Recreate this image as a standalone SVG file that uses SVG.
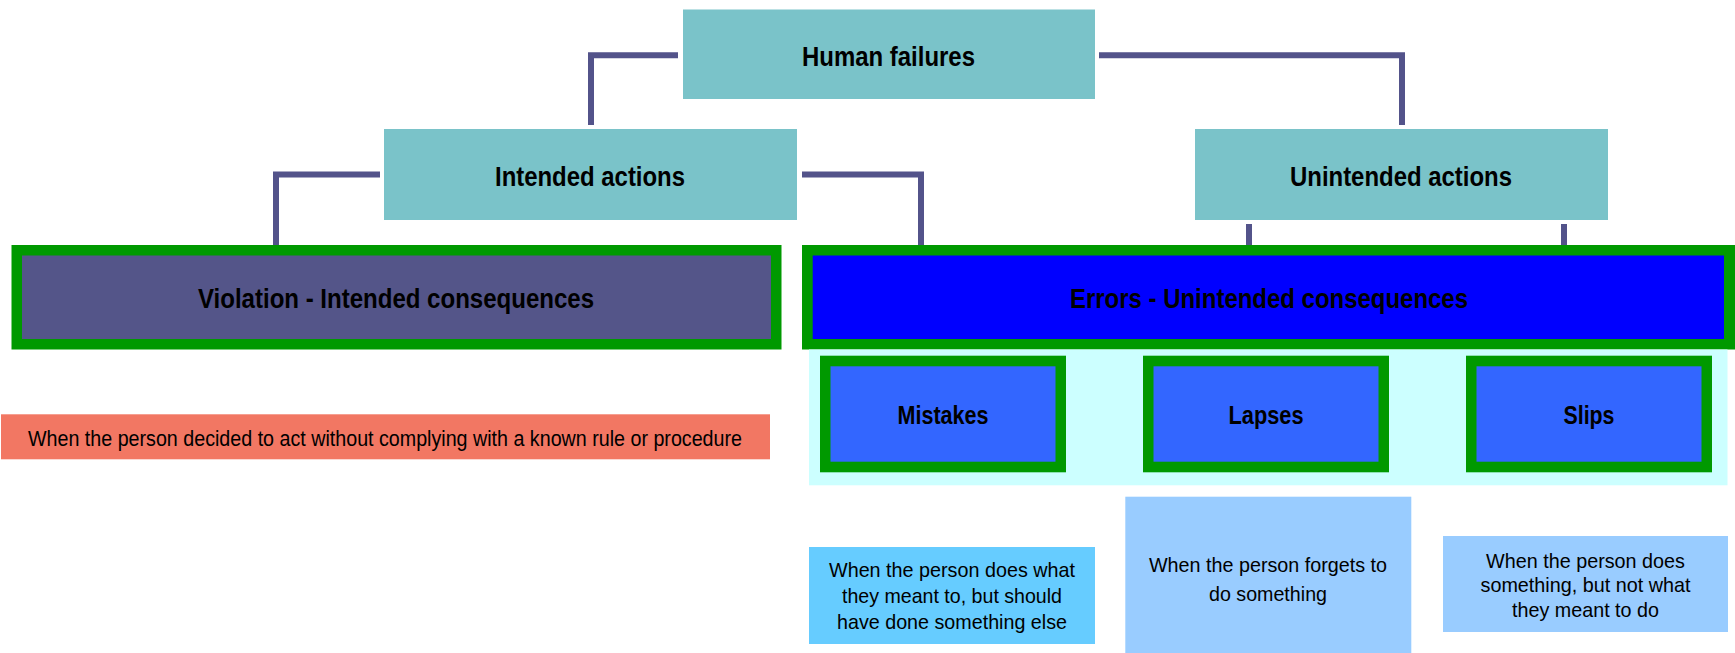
<svg xmlns="http://www.w3.org/2000/svg" width="1735" height="653" viewBox="0 0 1735 653">
  <style>
    .head { fill: #7AC3C9; }
    .frame { fill: #009900; }
    .sub { fill: #3366FF; }
    .link { fill: none; stroke: #53538A; stroke-width: 6; stroke-linecap: butt; stroke-linejoin: miter; }
    text { font-family: "Liberation Sans", Arial, sans-serif; fill: #000; text-anchor: middle; }
    .t-head { font-size: 28px; font-weight: bold; }
    .t-sub { font-size: 25px; font-weight: bold; }
    .t-note { font-size: 22px; }
    .t-desc { font-size: 21px; }
  </style>

  <rect width="1735" height="653" fill="#FFFFFF"/>

  <!-- connectors -->
  <g id="connectors">
    <path class="link" d="M678,55.3 H591 V125"/>
    <path class="link" d="M1099,55.3 H1402 V125"/>
    <path class="link" d="M380,174.5 H276 V245"/>
    <path class="link" d="M802,174.5 H921 V245"/>
    <path class="link" d="M1249,224 V245"/>
    <path class="link" d="M1564,224 V245"/>
  </g>

  <g id="human-failures">
    <rect class="head" x="683" y="9.5" width="412" height="89.5"/>
    <text class="t-head" x="888.5" y="66" textLength="173" lengthAdjust="spacingAndGlyphs">Human failures</text>
  </g>

  <g id="intended-actions">
    <rect class="head" x="384" y="129" width="413" height="91"/>
    <text class="t-head" x="590" y="186" textLength="190" lengthAdjust="spacingAndGlyphs">Intended actions</text>
  </g>

  <g id="unintended-actions">
    <rect class="head" x="1195" y="129" width="413" height="91"/>
    <text class="t-head" x="1401" y="186" textLength="222" lengthAdjust="spacingAndGlyphs">Unintended actions</text>
  </g>

  <g id="violation">
    <rect class="frame" x="11.5" y="245" width="770" height="104.5"/>
    <rect x="22" y="255.5" width="749" height="83.5" fill="#545589"/>
    <text class="t-head" x="396" y="308" textLength="396" lengthAdjust="spacingAndGlyphs">Violation - Intended consequences</text>
  </g>

  <g id="errors">
    <rect class="frame" x="802" y="245" width="933" height="104.5"/>
    <rect x="812.7" y="255.5" width="911.3" height="83.5" fill="#0000FF"/>
    <text class="t-head" x="1269" y="308" textLength="398" lengthAdjust="spacingAndGlyphs">Errors - Unintended consequences</text>
  </g>

  <g id="error-types">
    <rect x="809" y="349.5" width="918.5" height="135.8" fill="#CCFFFF"/>
  </g>

  <g id="mistakes">
    <rect class="frame" x="820" y="355.7" width="246" height="116.6"/>
    <rect class="sub" x="830.5" y="366.3" width="225" height="95.4"/>
    <text class="t-sub" x="943" y="424" textLength="91" lengthAdjust="spacingAndGlyphs">Mistakes</text>
  </g>

  <g id="lapses">
    <rect class="frame" x="1143" y="355.7" width="246" height="116.6"/>
    <rect class="sub" x="1153.5" y="366.3" width="225" height="95.4"/>
    <text class="t-sub" x="1266" y="424" textLength="75" lengthAdjust="spacingAndGlyphs">Lapses</text>
  </g>

  <g id="slips">
    <rect class="frame" x="1466" y="355.7" width="246" height="116.6"/>
    <rect class="sub" x="1476.5" y="366.3" width="225" height="95.4"/>
    <text class="t-sub" x="1589" y="424" textLength="51" lengthAdjust="spacingAndGlyphs">Slips</text>
  </g>

  <g id="violation-note">
    <rect x="1" y="414.3" width="769" height="45" fill="#F27763"/>
    <text class="t-note" x="385" y="446" textLength="714" lengthAdjust="spacingAndGlyphs">When the person decided to act without complying with a known rule or procedure</text>
  </g>

  <g id="mistakes-note">
    <rect x="809" y="547" width="286" height="97" fill="#66CCFF"/>
    <text class="t-desc" x="952" y="577" textLength="246" lengthAdjust="spacingAndGlyphs">When the person does what</text>
    <text class="t-desc" x="952" y="603" textLength="220" lengthAdjust="spacingAndGlyphs">they meant to, but should</text>
    <text class="t-desc" x="952" y="629" textLength="230" lengthAdjust="spacingAndGlyphs">have done something else</text>
  </g>

  <g id="lapses-note">
    <rect x="1125.3" y="496.7" width="286" height="156.3" fill="#99CCFF"/>
    <text class="t-desc" x="1268" y="572" textLength="238" lengthAdjust="spacingAndGlyphs">When the person forgets to</text>
    <text class="t-desc" x="1268" y="601" textLength="118" lengthAdjust="spacingAndGlyphs">do something</text>
  </g>

  <g id="slips-note">
    <rect x="1443" y="536" width="285" height="96" fill="#99CCFF"/>
    <text class="t-desc" x="1585.5" y="568" textLength="199" lengthAdjust="spacingAndGlyphs">When the person does</text>
    <text class="t-desc" x="1585.5" y="592" textLength="210" lengthAdjust="spacingAndGlyphs">something, but not what</text>
    <text class="t-desc" x="1585.5" y="617" textLength="147" lengthAdjust="spacingAndGlyphs">they meant to do</text>
  </g>
</svg>
